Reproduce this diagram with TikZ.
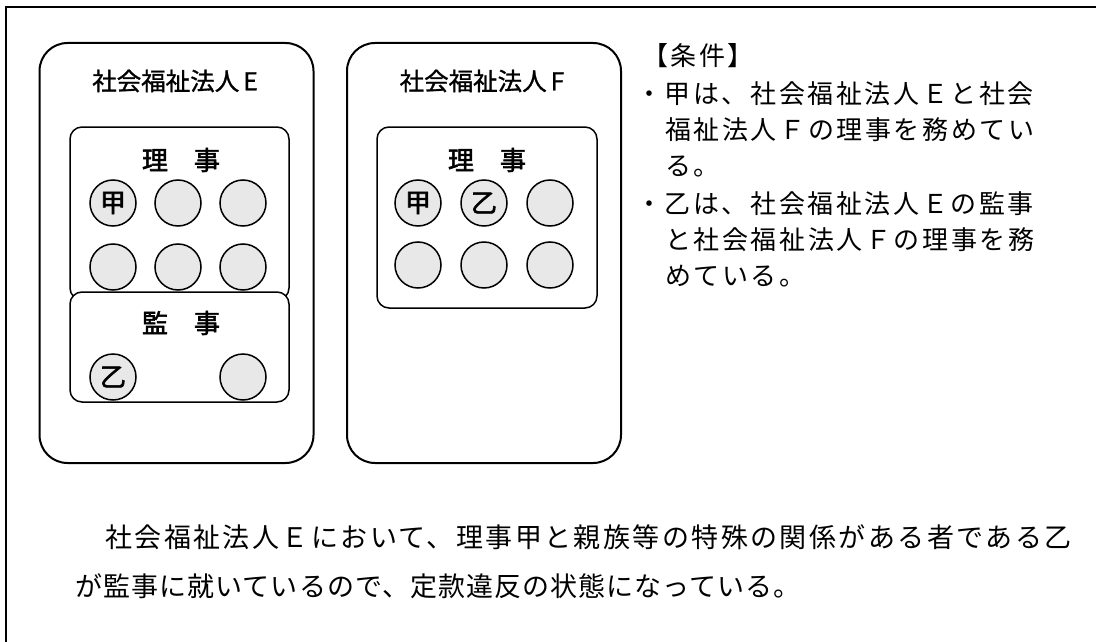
\documentclass[tikz,border=0pt]{standalone}
\usepackage{fontspec}
\newfontfamily\jp[FakeBold=1.2]{Noto Sans CJK JP}
\newfontfamily\jpb[FakeBold=2.2]{Noto Sans CJK JP}
\newfontfamily\jpt[LetterSpace=10]{Noto Sans CJK JP}
\newfontfamily\jpbody[LetterSpace=9]{Noto Sans CJK JP}
\newfontfamily\jpbodyn[LetterSpace=4]{Noto Sans CJK JP}
\tikzset{
  orgbox/.style={draw, line width=2pt, rounded corners=28pt, minimum width=274pt, minimum height=420pt, inner sep=0pt},
  grpbox/.style={draw, line width=1.5pt, rounded corners=12pt, fill=white},
  person/.style={circle, draw, line width=1.5pt, fill=black!9, minimum size=46pt, inner sep=0pt, font=\jpb\fontsize{26pt}{26pt}\selectfont},
  ttl/.style={inner sep=0pt, font=\jp\fontsize{24.5pt}{24.5pt}\selectfont},
  grplbl/.style={inner sep=0pt, font=\jpb\fontsize{26pt}{26pt}\selectfont},
  cond/.style={anchor=west, inner sep=0pt, text height=0.88em, text depth=0.12em, font=\jpt\fontsize{26pt}{26pt}\selectfont},
  body/.style={anchor=west, inner sep=0pt, text height=0.88em, text depth=0.12em, font=\jpbody\fontsize{27pt}{27pt}\selectfont},
  bodyn/.style={body, font=\jpbodyn\fontsize{27pt}{27pt}\selectfont}
}
\begin{document}
\begin{tikzpicture}[x=1pt,y=-1pt]
\useasboundingbox (0,0) rectangle (1096,642);
% outer frame (partially visible)
\coordinate (fbl) at (6,642);
\coordinate (ftl) at (6,7);
\coordinate (ftr) at (1096,7);
\draw[line width=2pt] (fbl) -- (ftl) -- (ftr);

% organisation boxes
\node[orgbox] (boxE) at (176.5,253) {};
\node[orgbox] (boxF) at (484,253) {};
\node[ttl] (titleE) at (175,81) {社会福祉法人\,E};
\node[ttl] (titleF) at (482,81) {社会福祉法人\,F};

% E: directors and auditors
\draw[grpbox] (70,127) rectangle (289,300);
\draw[grpbox] (70,292) rectangle (289,402);
\node[grplbl] (rijiE) at (181,160) {理　事};
\node[grplbl] (kanjiE) at (181,323) {監　事};
\node[person] (e1) at (113,203) {甲};
\node[person] (e2) at (178,203) {};
\node[person] (e3) at (243,203) {};
\node[person] (e4) at (113,267) {};
\node[person] (e5) at (178,267) {};
\node[person] (e6) at (243,267) {};
\node[person] (ek1) at (113,377) {乙};
\node[person] (ek2) at (243,377) {};

% F: directors
\draw[grpbox] (377,127) rectangle (597,308);
\node[grplbl] (rijiF) at (487,160) {理　事};
\node[person] (f1) at (418,203) {甲};
\node[person] (f2) at (484,203) {乙};
\node[person] (f3) at (550,203) {};
\node[person] (f4) at (418,265) {};
\node[person] (f5) at (484,265) {};
\node[person] (f6) at (550,265) {};

% conditions
\node[cond] (c0) at (642,62) {【条件】};
\node[cond] (c1) at (636,100) {・甲は、社会福祉法人Ｅと社会};
\node[cond] (c2) at (665,136) {福祉法人Ｆの理事を務めてい};
\node[cond] (c3) at (665,172) {る。};
\node[cond] (c4) at (636,210) {・乙は、社会福祉法人Ｅの監事};
\node[cond] (c5) at (665,246) {と社会福祉法人Ｆの理事を務};
\node[cond] (c6) at (665,282) {めている。};

% explanation
\node[body] (b1) at (105,544) {社会福祉法人Ｅにおいて、理事甲と親族等の特殊の関係がある者である乙};
\node[bodyn] (b2) at (75,593) {が監事に就いているので、定款違反の状態になっている。};
\end{tikzpicture}
\end{document}
